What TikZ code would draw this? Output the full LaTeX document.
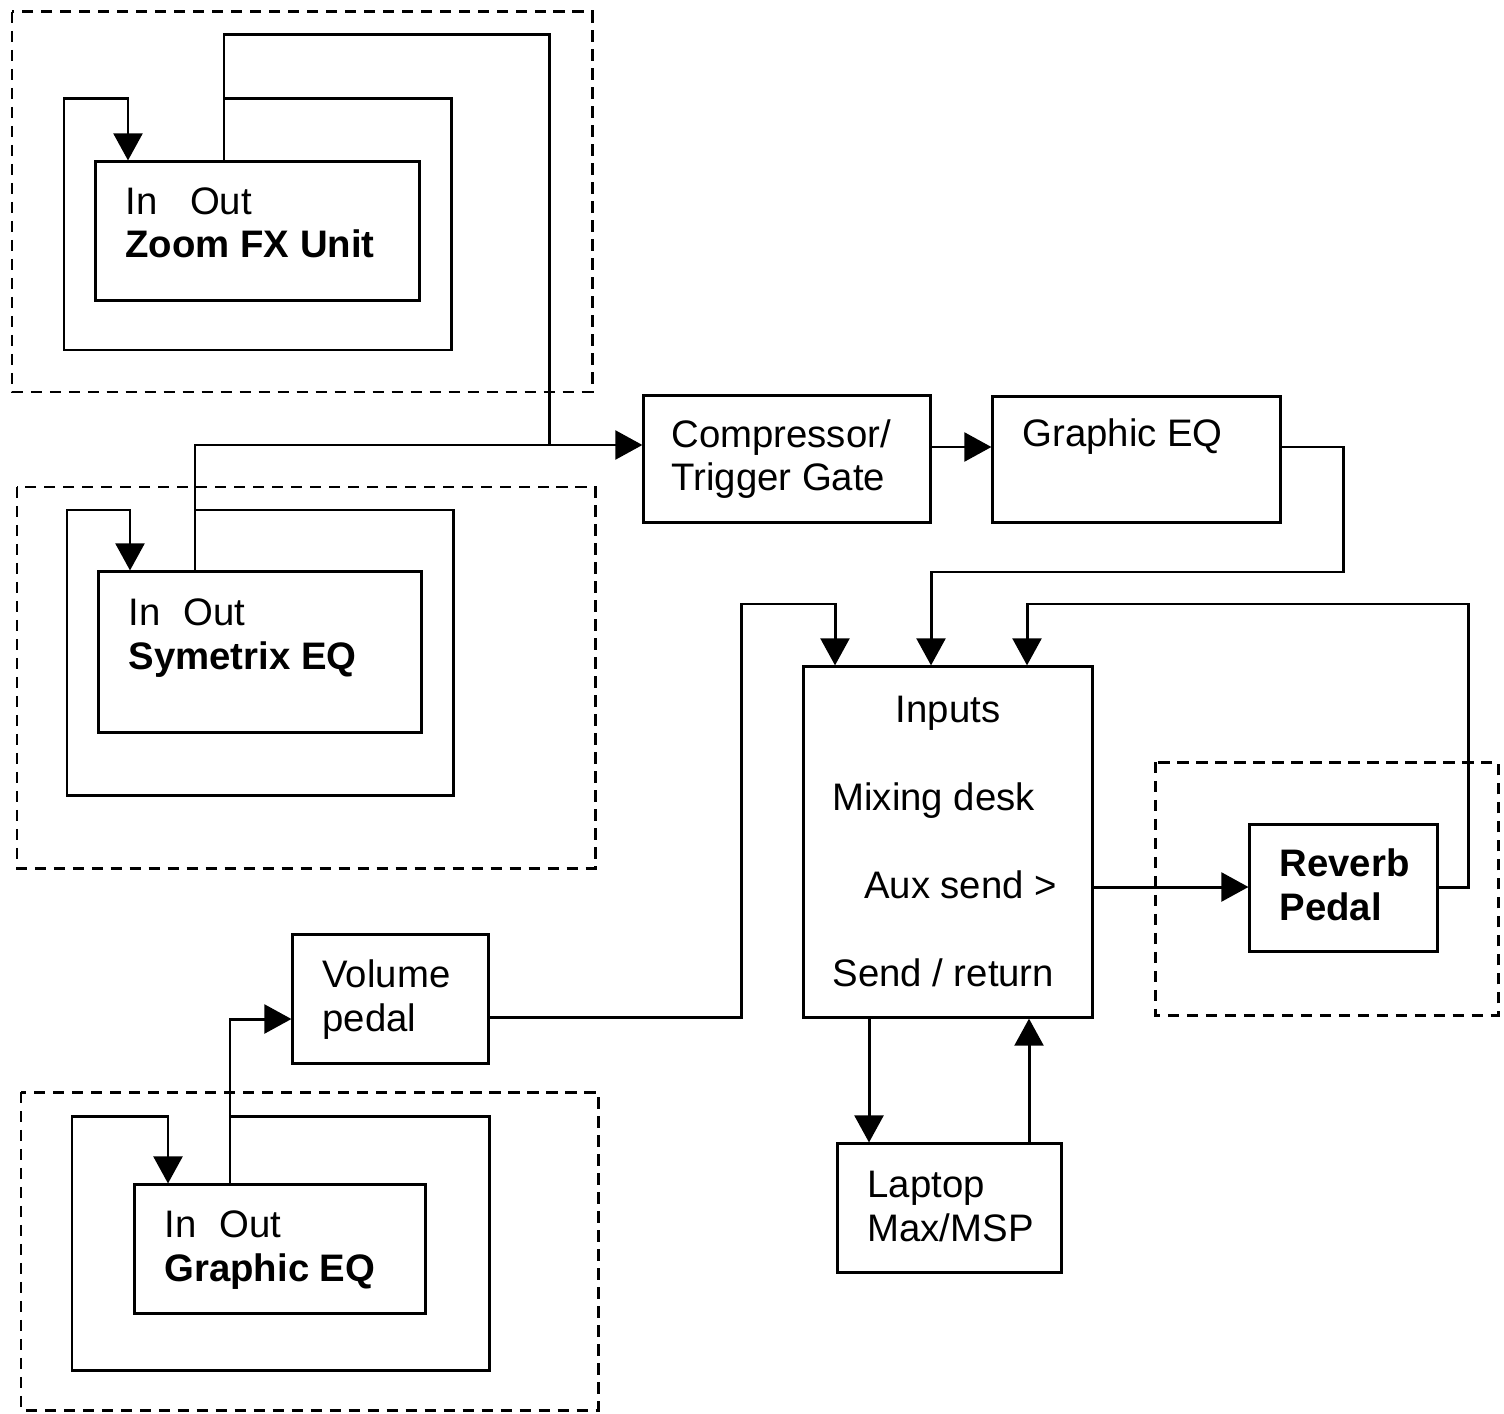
\documentclass[tikz,border=0pt]{standalone}
\usepackage{fontspec}
\setmainfont{Liberation Sans}
\usetikzlibrary{arrows.meta,calc,positioning}

\begin{document}
\begin{tikzpicture}[x=0.01cm,y=-0.01cm,line width=0.85pt,
  >={Triangle[length=7.7pt,width=8.2pt]},
  box/.style={draw,inner sep=0pt},
  lbl/.style={anchor=base west,inner sep=0pt,align=left,font=\fontsize{10.9}{12.5}\selectfont},
  grp/.style={line width=0.85pt,dash pattern=on 3.2pt off 2.2pt}]
  \useasboundingbox (0,0) rectangle (1504,1413);
  \draw[grp] (12,12) rectangle (592,392);
  \draw[grp] (17,487) rectangle (595,868);
  \draw[grp] (1155,762) rectangle (1498,1015);
  \draw[grp] (21,1092) rectangle (598,1410);

  \node[box,minimum width=3.23cm,minimum height=1.38cm] (zoom) at (257.5,231) {};
  \node[lbl] (zoomlbl) at (124,258) {In\hspace{0.85em}Out\\\textbf{Zoom FX Unit}};
  \node[box,minimum width=3.22cm,minimum height=1.6cm] (sym) at (260,652) {};
  \node[lbl] (symlbl) at (127,669) {In\hspace{0.6em}Out\\\textbf{Symetrix EQ}};
  \node[box,minimum width=2.86cm,minimum height=1.26cm] (comp) at (787,459) {};
  \node[lbl] (complbl) at (670,491) {Compressor/\\Trigger Gate};
  \node[box,minimum width=2.87cm,minimum height=1.25cm] (geq) at (1136.5,459.5) {};
  \node[lbl] (geqlbl) at (1021,447) {Graphic EQ};
  \node[box,minimum width=2.88cm,minimum height=3.5cm] (mix) at (948,842) {};
  \node[lbl] (mixlbl) at (831,986) {\hspace*{18pt}Inputs\\[12.5pt]Mixing desk\\[12.5pt]\hspace*{9pt}Aux send >\\[12.5pt]Send / return};
  \node[box,minimum width=1.87cm,minimum height=1.26cm] (reverb) at (1343.5,888) {};
  \node[lbl] (reverblbl) at (1278,920) {\textbf{Reverb}\\\textbf{Pedal}};
  \node[box,minimum width=2.23cm,minimum height=1.28cm] (laptop) at (949.5,1208) {};
  \node[lbl] (laptoplbl) at (866,1241) {Laptop\\Max/MSP};
  \node[box,minimum width=1.95cm,minimum height=1.28cm] (volume) at (390.5,999) {};
  \node[lbl] (volumelbl) at (321,1031) {Volume\\pedal};
  \node[box,minimum width=2.9cm,minimum height=1.28cm] (geqb) at (280,1249) {};
  \node[lbl] (geqblbl) at (163,1281) {In\hspace{0.6em}Out\\\textbf{Graphic EQ}};

  \draw (zoom.north -| 224,0) -- (224,35) -- (549,35) -- (549,445);
  \draw[->] (224,99) -- (451,99) -- (451,350) -- (64,350) -- (64,99) -- (128,99) -- (zoom.north -| 128,0);
  \draw[->] (sym.north -| 195,0) -- (195,445) -- (comp.west |- 0,445);
  \draw[->] (195,510) -- (453,510) -- (453,795) -- (67,795) -- (67,510) -- (130,510) -- (sym.north -| 130,0);
  \draw[->] (comp.east |- 0,447) -- (geq.west |- 0,447);
  \draw[->] (geq.east |- 0,447) -- (1343,447) -- (1343,572) -- (931,572) -- (mix.north -| 931,0);
  \draw[->] (volume.east |- 0,1017) -- (741,1017) -- (741,604) -- (835,604) -- (mix.north -| 835,0);
  \draw[->] (reverb.east |- 0,887) -- (1468,887) -- (1468,604) -- (1027,604) -- (mix.north -| 1027,0);
  \draw[->] (mix.east |- 0,887) -- (reverb.west |- 0,887);
  \draw[->] (mix.south -| 869,0) -- (laptop.north -| 869,0);
  \draw[->] (laptop.north -| 1029,0) -- (mix.south -| 1029,0);
  \draw[->] (geqb.north -| 230,0) -- (230,1019) -- (volume.west |- 0,1019);
  \draw[->] (230,1116) -- (489,1116) -- (489,1370) -- (72,1370) -- (72,1116) -- (168,1116) -- (geqb.north -| 168,0);
\end{tikzpicture}
\end{document}
